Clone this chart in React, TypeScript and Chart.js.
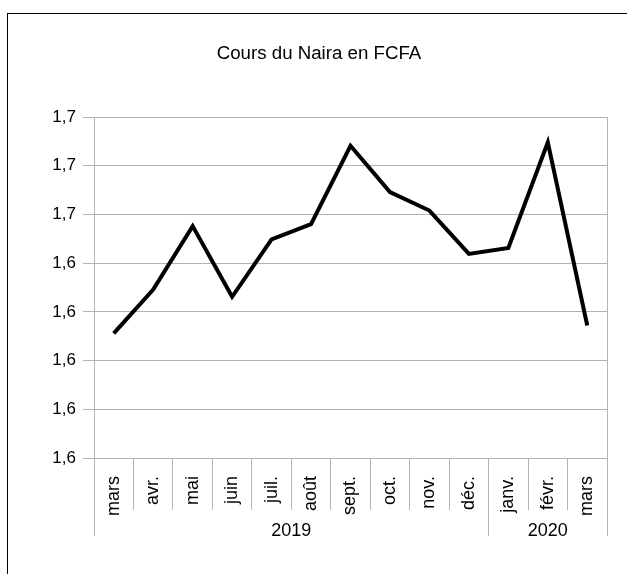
import { useEffect, useRef } from "react";
import { Chart, registerables } from "chart.js";

Chart.register(...registerables);

const months = ["mars", "avr.", "mai", "juin", "juil.", "août", "sept.", "oct.", "nov.", "déc.", "janv.", "févr.", "mars"];
const years = ["2019", "2019", "2019", "2019", "2019", "2019", "2019", "2019", "2019", "2019", "2020", "2020", "2020"];
const rates = [1.6356, 1.6446, 1.6576, 1.6431, 1.6549, 1.658, 1.6741, 1.6646, 1.6608, 1.6519, 1.6531, 1.6748, 1.6372];
const yTicks = [1.61, 1.62, 1.63, 1.64, 1.65, 1.66, 1.67, 1.68];

const title = "Cours du Naira en FCFA";
const FONT = '"Liberation Sans", Arial, sans-serif';
const GRID = "#b3b3b3";

const groupPlugin = {
  id: "yearGroups",
  afterDraw(chart: any) {
    const xs = chart.scales.x;
    const area = chart.chartArea;
    const ctx = chart.ctx;
    const groups: { label: string; start: number; end: number }[] = [];
    years.forEach((y, i) => {
      const g = groups[groups.length - 1];
      if (!g || g.label !== y) groups.push({ label: y, start: i, end: i });
      else g.end = i;
    });
    const half = (xs.getPixelForValue(1) - xs.getPixelForValue(0)) / 2;
    const lineTop = area.bottom + 52;
    const lineBottom = area.bottom + 78;
    ctx.save();
    ctx.strokeStyle = GRID;
    ctx.lineWidth = 1;
    const bounds: number[] = [];
    groups.forEach((g) => {
      bounds.push(xs.getPixelForValue(g.start) - half);
    });
    bounds.push(xs.getPixelForValue(groups[groups.length - 1].end) + half);
    ctx.beginPath();
    bounds.forEach((b) => {
      const px = Math.round(b - 0.5) + 0.5;
      ctx.moveTo(px, lineTop);
      ctx.lineTo(px, lineBottom);
    });
    // right border of the plot area
    const rx = Math.round(area.right - 0.5) + 0.5;
    ctx.moveTo(rx, area.top);
    ctx.lineTo(rx, area.bottom);
    ctx.stroke();

    ctx.fillStyle = "#000";
    ctx.font = "18px " + FONT;
    ctx.textAlign = "center";
    ctx.textBaseline = "middle";
    groups.forEach((g) => {
      const left = xs.getPixelForValue(g.start) - half;
      const right = xs.getPixelForValue(g.end) + half;
      ctx.fillText(g.label, (left + right) / 2, area.bottom + 73);
    });
    ctx.restore();
  },
};

export default function App() {
  const ref = useRef<HTMLCanvasElement | null>(null);

  useEffect(() => {
    if (!ref.current) return;
    Chart.defaults.font.family = FONT;
    Chart.defaults.color = "#000";
    const chart = new Chart(ref.current, {
      type: "line",
      data: {
        labels: months,
        datasets: [
          {
            data: rates,
            borderColor: "#000",
            borderWidth: 4,
            borderJoinStyle: "miter",
            pointRadius: 0,
            pointHoverRadius: 0,
            fill: false,
            tension: 0,
          },
        ],
      },
      options: {
        animation: false,
        responsive: true,
        maintainAspectRatio: false,
        layout: { padding: { left: 31, right: 20, top: 0, bottom: 54 } },
        plugins: {
          legend: { display: false },
          tooltip: { enabled: false },
          title: {
            display: true,
            text: title,
            color: "#000",
            font: { size: 18.7, weight: "normal", family: FONT },
            padding: { top: 43, bottom: 51.6 },
          },
        },
        scales: {
          x: {
            type: "category",
            offset: true,
            grid: {
              offset: true,
              drawOnChartArea: false,
              drawTicks: true,
              tickLength: 52,
              color: GRID,
            },
            border: { color: GRID },
            ticks: {
              autoSkip: false,
              minRotation: 90,
              maxRotation: 90,
              padding: -34,
              color: "#000",
              font: { size: 18, family: FONT },
            },
            afterFit: (s: any) => {
              s.height = 62;
            },
          },
          y: {
            min: yTicks[0],
            max: yTicks[yTicks.length - 1],
            afterBuildTicks: (s: any) => {
              s.ticks = yTicks.map((v) => ({ value: v }));
            },
            grid: { color: GRID, tickLength: 11 },
            border: { color: GRID },
            ticks: {
              padding: 7,
              color: "#000",
              font: { size: 17, family: FONT },
              callback: (v: any) => Number(v).toFixed(1).replace(".", ","),
            },
            afterFit: (s: any) => {
              s.width = 63;
            },
          },
        },
      },
      plugins: [groupPlugin],
    });
    return () => chart.destroy();
  }, []);

  return (
    <div style={{ position: "absolute", left: 0, top: 0, width: 627, height: 574, overflow: "hidden", background: "#fff" }}>
      <div
        style={{
          position: "absolute",
          left: 7,
          top: 13,
          right: -10,
          bottom: -10,
          borderLeft: "1px solid #000",
          borderTop: "1px solid #000",
        }}
      />
      <div style={{ position: "absolute", left: 0, top: 0, width: 627, height: 574 }}>
        <canvas ref={ref} />
      </div>
    </div>
  );
}
